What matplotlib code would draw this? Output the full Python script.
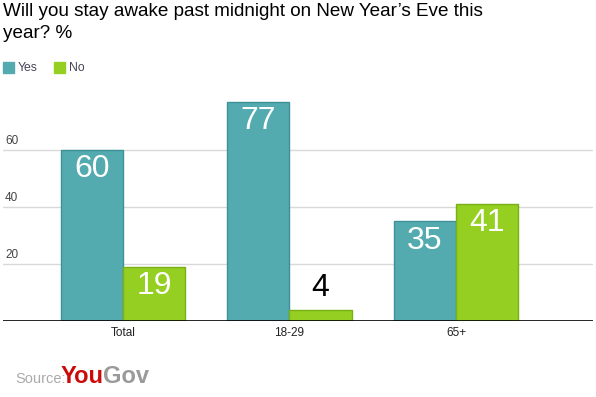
import matplotlib.pyplot as plt
import numpy as np

plt.rcParams['font.family'] = ['Liberation Sans', 'DejaVu Sans']

categories = ['Total', '18-29', '65+']
yes_values = [60, 77, 35]
no_values = [19, 4, 41]
y_ticks = [20, 40, 60]

yes_color = '#53abb0'
yes_edge = '#3d9197'
no_color = '#95cf22'
no_edge = '#78b015'

W, H = 596, 397
fig = plt.figure(figsize=(W / 100, H / 100), dpi=100)
ax = fig.add_axes([3 / W, 1 - 321 / H, 590 / W, 228 / H])

x = np.arange(len(categories))
bw = 0.373
bars_yes = ax.bar(x - bw / 2, yes_values, bw, color=yes_color, edgecolor=yes_edge, linewidth=1, zorder=3)
bars_no = ax.bar(x + bw / 2, no_values, bw, color=no_color, edgecolor=no_edge, linewidth=1, zorder=3)

ax.set_xlim(-0.72, 2.823)
ax.set_ylim(0, 80)

# grid lines and y labels sitting above them
for t in y_ticks:
    ax.axhline(t, color='#d9d9d9', linewidth=1, zorder=1)
    ax.text(2 / 590, t + 1.2, str(t), transform=ax.get_yaxis_transform(),
            fontsize=8.5, color='#444444', ha='left', va='bottom')
ax.axhline(0, color='black', linewidth=1.2, zorder=4)

for s in ax.spines.values():
    s.set_visible(False)
ax.set_yticks([])
ax.set_xticks(x)
ax.set_xticklabels(categories, fontsize=8.5, color='#222222')
ax.tick_params(axis='x', length=0, pad=4)

# value labels: inside in white, above in black if the bar is too short
for bars in (bars_yes, bars_no):
    for b in bars:
        v = b.get_height()
        cx = b.get_x() + b.get_width() / 2
        if v >= 12:
            ax.text(cx, v - 1.5, str(int(v)), ha='center', va='top',
                    fontsize=23, color='white', zorder=5)
        else:
            ax.text(cx, v + 2.2, str(int(v)), ha='center', va='bottom',
                    fontsize=23, color='black', zorder=5)

# title
fig.text(3 / W, 1 - 3 / H, 'Will you stay awake past midnight on New Year\u2019s Eve this\nyear? %',
         fontsize=13.6, color='black', ha='left', va='top', linespacing=1.38)

# legend
fig.patches.append(plt.Rectangle((3 / W, 1 - 73 / H), 11 / W, 11 / H,
                                 transform=fig.transFigure, color=yes_color))
fig.text(18 / W, 1 - 68 / H, 'Yes', fontsize=8.8, color='#444455', va='center', ha='left')
fig.patches.append(plt.Rectangle((54 / W, 1 - 73 / H), 11 / W, 11 / H,
                                 transform=fig.transFigure, color=no_color))
fig.text(69 / W, 1 - 68 / H, 'No', fontsize=8.8, color='#444455', va='center', ha='left')

# source
fig.text(15 / W, 1 - 383 / H, 'Source:', fontsize=10.5, color='#aaaaaa', ha='left', va='baseline')
fig.text(61 / W, 1 - 383 / H, 'You', fontsize=17, color='#cc0a0a', fontweight='bold',
         ha='left', va='baseline')
fig.text(103 / W, 1 - 383 / H, 'Gov', fontsize=17, color='#9a9a9a', fontweight='bold',
         ha='left', va='baseline')

fig.savefig('out.png', dpi=100)
